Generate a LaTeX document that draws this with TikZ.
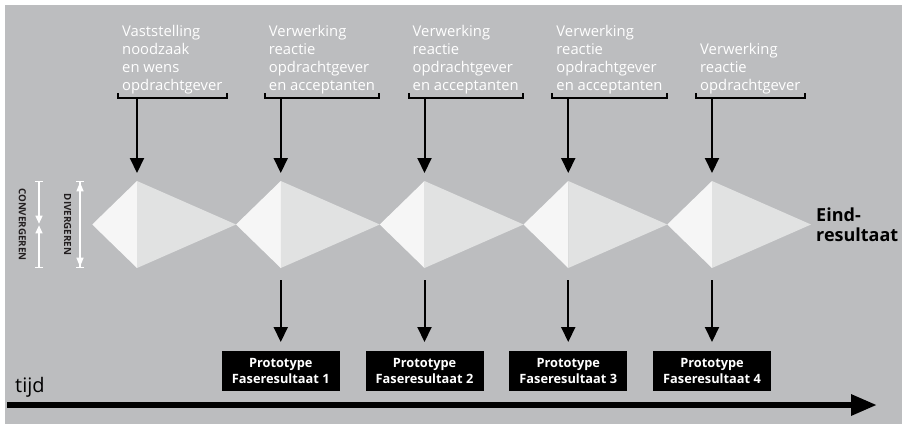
\documentclass[tikz,border=0pt]{standalone}
\usepackage{fontspec}
\setmainfont{Open Sans}
\usepackage{tikz}
\usetikzlibrary{arrows.meta,positioning}
\definecolor{grijs}{RGB}{188,189,191}
\definecolor{licht}{RGB}{246,246,246}
\definecolor{middel}{RGB}{225,226,226}
\definecolor{donker}{RGB}{35,31,32}
\newcommand{\ruit}[2]{%
  \coordinate (#2) at (#1,181);
  \coordinate (#2-o) at (#1,268);
  \coordinate (#2-r) at (#1+99,224.5);
  \fill[licht] (#1-44.75,224.5) -- (#2) -- (#2-o) -- cycle;
  \fill[middel] (#2) -- (#2-r) -- (#2-o) -- cycle;
}

\begin{document}
\begin{tikzpicture}[x=1pt,y=-1pt,
    tekst/.style={align=left,text=white,inner xsep=4pt,inner ysep=0pt,
      font=\fontsize{14.8}{18}\selectfont},
    haak/.style={line width=2pt},
    pijl/.style={line width=2pt,-{Triangle[width=14pt,length=15pt]}},
    proto/.style={fill=black,text=white,minimum width=118pt,minimum height=40pt,
      align=center,inner sep=0pt,font=\bfseries\fontsize{12.8}{16}\selectfont},
    maat/.style={white,line width=1.3pt},
    zijtekst/.style={text=donker,inner sep=0pt,font=\bfseries\fontsize{9.8}{12}\selectfont}]
    \useasboundingbox (0,0) rectangle (902,424);
    \fill[grijs] (5,5) rectangle (902,424);

    \ruit{137}{r1}
    \ruit{280.75}{r2}
    \ruit{424.5}{r3}
    \ruit{568.25}{r4}
    \ruit{712}{r5}

    \coordinate (s1) at (137,98);
    \coordinate (s2) at (280.75,98);
    \coordinate (s3) at (424.5,98);
    \coordinate (s4) at (568.25,98);
    \coordinate (s5) at (712,98);
    \node[tekst,above right=4pt and -19pt of s1] (t1) {Vaststelling\\noodzaak\\en wens\\opdrachtgever};
    \node[tekst,above right=4pt and -16pt of s2] (t2) {Verwerking\\reactie\\opdrachtgever\\en acceptanten};
    \node[tekst,above right=4pt and -16pt of s3] (t3) {Verwerking\\reactie\\opdrachtgever\\en acceptanten};
    \node[tekst,above right=4pt and -16pt of s4] (t4) {Verwerking\\reactie\\opdrachtgever\\en acceptanten};
    \node[tekst,above right=4pt and -16pt of s5] (t5) {Verwerking\\reactie\\opdrachtgever};
    \draw[haak] ([yshift=1pt]t1.south west) |- ([yshift=-4pt]t1.south east) -- ([yshift=1pt]t1.south east);
    \draw[haak] ([yshift=1pt]t2.south west) |- ([yshift=-4pt]t2.south east) -- ([yshift=1pt]t2.south east);
    \draw[haak] ([yshift=1pt]t3.south west) |- ([yshift=-4pt]t3.south east) -- ([yshift=1pt]t3.south east);
    \draw[haak] ([yshift=1pt]t4.south west) |- ([yshift=-4pt]t4.south east) -- ([yshift=1pt]t4.south east);
    \draw[haak] ([yshift=1pt]t5.south west) |- ([yshift=-4pt]t5.south east) -- ([yshift=1pt]t5.south east);
    \draw[pijl,shorten >=8pt] (s1) -- (r1);
    \draw[pijl,shorten >=8pt] (s2) -- (r2);
    \draw[pijl,shorten >=8pt] (s3) -- (r3);
    \draw[pijl,shorten >=8pt] (s4) -- (r4);
    \draw[pijl,shorten >=8pt] (s5) -- (r5);

    \node[proto,below=83pt of r2-o] (p1) {Prototype\\Faseresultaat 1};
    \node[proto,below=83pt of r3-o] (p2) {Prototype\\Faseresultaat 2};
    \node[proto,below=83pt of r4-o] (p3) {Prototype\\Faseresultaat 3};
    \node[proto,below=83pt of r5-o] (p4) {Prototype\\Faseresultaat 4};
    \draw[pijl,shorten <=12pt,shorten >=9pt] (r2-o) -- (p1);
    \draw[pijl,shorten <=12pt,shorten >=9pt] (r3-o) -- (p2);
    \draw[pijl,shorten <=12pt,shorten >=9pt] (r4-o) -- (p3);
    \draw[pijl,shorten <=12pt,shorten >=9pt] (r5-o) -- (p4);

    \node[right=5pt of r5-r,align=left,inner sep=0pt,font=\bfseries\fontsize{18}{20}\selectfont] (eind) {Eind-\\resultaat};

    \coordinate (c1) at (39,181);
    \coordinate (c2) at (39,268);
    \coordinate (cm) at (39,224.5);
    \draw[maat,{Bar[width=8pt]}-{Triangle[width=7pt,length=8pt]},shorten >=0.8pt] (c1) -- (cm);
    \draw[maat,{Bar[width=8pt]}-{Triangle[width=7pt,length=8pt]},shorten >=0.8pt] (c2) -- (cm);
    \node[zijtekst,rotate=-90] (conv) at (22.5,224.5) {CONVERGEREN};
    \coordinate (d1) at (80,181);
    \coordinate (d2) at (80,268);
    \draw[maat,{Bar[width=8pt]Triangle[width=7pt,length=9pt]}-{Triangle[width=7pt,length=9pt]Bar[width=8pt]}] (d1) -- (d2);
    \node[zijtekst,rotate=-90] (div) at (67.5,224.5) {DIVERGEREN};

    \coordinate (a0) at (7,405);
    \coordinate (a1) at (877,405);
    \draw[line width=6pt,-{Triangle[width=20pt,length=26pt]}] (a0) -- (a1);
    \node[anchor=base west,inner sep=0pt,font=\fontsize{20}{24}\selectfont] (tijd) at ([xshift=8pt,yshift=13pt]a0) {tijd};
\end{tikzpicture}
\end{document}
